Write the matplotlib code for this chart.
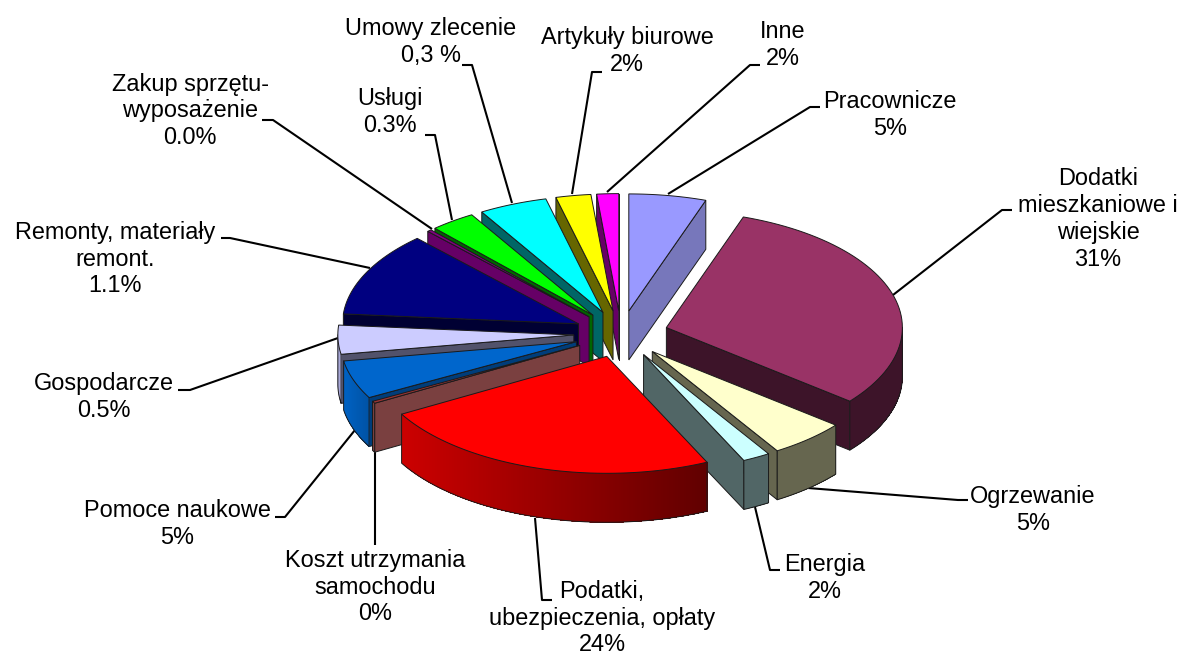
"""
plot.py - exploded 3D style pie chart, drawn with plain polygons.
"""
import numpy as np
import matplotlib
matplotlib.use("Agg")
import matplotlib.pyplot as plt
import matplotlib.colors as mcolors

plt.rcParams["font.family"] = ["Liberation Sans", "DejaVu Sans"]

# Slice sizes as drawn (percent of the pie), clockwise from 12 o'clock
names = ["Pracownicze", "Dodatki\nmieszkaniowe i\nwiejskie", "Ogrzewanie", "Energia",
         "Podatki,\nubezpieczenia, opłaty", "Koszt utrzymania\nsamochodu", "Pomoce naukowe",
         "Gospodarcze", "Remonty, materiały\nremont.", "Zakup sprzętu-\nwyposażenie",
         "Usługi", "Umowy zlecenie", "Artykuły biurowe", "Inne"]
shares = [5.3, 30.6, 5.3, 1.9, 23.8, 0.3, 5.3, 4.0, 11.7, 0.3, 3.1, 4.7, 2.4, 1.5]
# Percent labels as printed on the chart
printed = ["5%", "31%", "5%", "2%", "24%", "0%", "5%", "0.5%", "1.1%", "0.0%",
           "0.3%", "0,3 %", "2%", "2%"]

# Colours per slice: top face, cut face, rim left, rim right
top_col = ["#9999FF", "#993366", "#FFFFCC", "#CCFFFF", "#FF0000", "#993333", "#0066CC",
           "#CCCCFF", "#000080", "#800080", "#00FF00", "#00FFFF", "#FFFF00", "#FF00FF"]
cut_col = ["#7777BB", "#3D1429", "#66664F", "#516666", "#660000", "#7A4040", "#003D7A",
           "#52526B", "#000033", "#660066", "#006600", "#006666", "#666600", "#660066"]
rim_l = ["#7777BB", "#3D1429", "#66664F", "#516666", "#CC0000", "#7A4040", "#0062C4",
         "#A8A8D8", "#000033", "#660066", "#006600", "#006666", "#666600", "#660066"]
rim_r = ["#7777BB", "#3D1429", "#66664F", "#516666", "#600000", "#7A4040", "#0052A4",
         "#A8A8D8", "#000033", "#660066", "#006600", "#006666", "#666600", "#660066"]

# Label centres and leader lines in picture pixels
label_xy = [(890, 115), (1098, 219), (1033, 510), (825, 578), (602, 618), (375, 587),
            (177, 524), (104, 397), (115, 259), (190, 111), (390, 112), (431, 42),
            (627, 51), (783, 45)]
leaders = [[(668, 194), (810, 107), (820, 107)],
           [(893, 295), (1002, 210), (1012, 210)],
           [(808, 488), (958, 500), (968, 500)],
           [(755, 507), (770, 570), (780, 570)],
           [(535, 518), (542, 600), (552, 600)],
           [(375, 452), (375, 545)],
           [(355, 430), (285, 517), (275, 517)],
           [(338, 338), (190, 390), (178, 390)],
           [(370, 268), (230, 238), (221, 238)],
           [(432, 229), (273, 120), (262, 120)],
           [(452, 220), (435, 135), (425, 135)],
           [(512, 203), (472, 65), (462, 65)],
           [(572, 194), (592, 72), (602, 72)],
           [(607, 192), (750, 65), (760, 65)]]

CX, CY = 621, 334
RX, RY = 236, 117
DEPTH = 49
EXPLODE = 0.2
EDGE = "#1a1a1a"


def arc(ax0, ay0, a1, a2, n=60):
    t = np.radians(np.linspace(a1, a2, n))
    return ax0 + RX * np.cos(t), ay0 - RY * np.sin(t)


fig = plt.figure(figsize=(11.79, 6.57), dpi=100)
ax = fig.add_axes([0, 0, 1, 1])
ax.set_xlim(0, 1179)
ax.set_ylim(657, 0)
ax.axis("off")

for pts in leaders:
    xs, ys = zip(*pts)
    ax.plot(xs, ys, color="black", lw=1.5, zorder=1, solid_capstyle="butt")

# Angles run clockwise from the top, so a slice spans hi (ccw end) to lo (cw end)
frac = np.array(shares) / np.sum(shares) * 360
ends = 90 - np.cumsum(frac)
starts = ends + frac
mids = (starts + ends) / 2
order = np.argsort(-np.sin(np.radians(mids)), kind="stable")

z = 2
for i in order:
    hi, lo, mid = starts[i], ends[i], np.radians(mids[i])
    x0 = CX + EXPLODE * RX * np.cos(mid)
    y0 = CY - EXPLODE * RY * np.sin(mid)

    # cut faces that look towards the viewer
    for ang in (hi, lo):
        ca = np.cos(np.radians(ang))
        if (ang == hi and ca < 0) or (ang == lo and ca > 0):
            xe, ye = arc(x0, y0, ang, ang, 1)
            ax.fill([x0, xe[0], xe[0], x0], [y0, ye[0], ye[0] + DEPTH, y0 + DEPTH],
                    facecolor=cut_col[i], edgecolor=EDGE, lw=0.7, zorder=z)

    # rim, front half only
    vis = np.arange(np.floor(lo), np.ceil(hi) + 1)
    vis = np.clip(vis, lo, hi)
    vis = vis[np.sin(np.radians(vis)) <= 0]
    if len(vis) > 1:
        xa, ya = arc(x0, y0, vis[0], vis[-1], max(len(vis) * 2, 2))
        c1, c2 = mcolors.to_rgb(rim_l[i]), mcolors.to_rgb(rim_r[i])
        xmin, xmax = xa.min(), xa.max()
        # paint from the left with each strip reaching to the far end, so no seams show
        idx = np.argsort(xa)
        for k in idx:
            t = (xa[k] - xmin) / max(xmax - xmin, 1)
            col = tuple(np.array(c1) * (1 - t) + np.array(c2) * t)
            keep = xa >= xa[k]
            ax.fill(np.r_[xa[keep], xa[keep][::-1]], np.r_[ya[keep], ya[keep][::-1] + DEPTH],
                    facecolor=col, edgecolor="none", zorder=z)
        ax.plot(np.r_[xa[0], xa, xa[-1]], np.r_[ya[0], ya + DEPTH, ya[-1]],
                color=EDGE, lw=0.7, zorder=z)

    # top face
    xa, ya = arc(x0, y0, hi, lo)
    ax.fill(np.r_[x0, xa], np.r_[y0, ya], facecolor=top_col[i], edgecolor=EDGE,
            lw=0.7, joinstyle="miter", zorder=z)
    z += 1

for name, pct, (lx, ly) in zip(names, printed, label_xy):
    ax.text(lx, ly, f"{name}\n{pct}", ha="center", va="center", fontsize=16.9,
            linespacing=1.22, color="black", zorder=50)

fig.savefig("out.png", dpi=100)
